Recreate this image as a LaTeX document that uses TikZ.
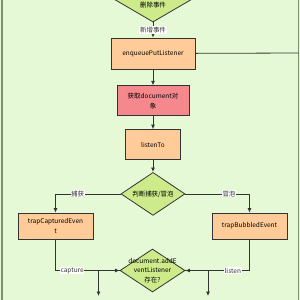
\documentclass[tikz,border=0pt]{standalone}
\usepackage{fontspec}
\setmainfont{Noto Sans CJK SC}
\usetikzlibrary{arrows.meta,positioning,shapes.geometric}
\definecolor{Lane}{HTML}{E6F9D7}
\definecolor{LaneLine}{HTML}{7F8F72}
\definecolor{Peach}{HTML}{FFCC99}
\definecolor{Rose}{HTML}{F4888D}
\definecolor{Leaf}{HTML}{CDEB8B}
\definecolor{Ink}{HTML}{333333}

\begin{document}
\begin{tikzpicture}[x=1bp,y=1bp,>={Latex[length=4.5bp,width=4bp]},
    font=\fontsize{6.5}{9.5}\selectfont]
    \tikzset{
      box/.style={draw=Ink,line width=0.8bp,fill=Peach,inner sep=1bp,
        minimum height=30bp,align=center},
      fetch/.style={box,fill=Rose},
      decision/.style={diamond,draw=Ink,line width=0.8bp,fill=Leaf,inner sep=0pt,
        aspect=1.5,minimum width=65bp,minimum height=43bp,align=center},
      flow/.style={->,draw=Ink,line width=0.8bp},
      tag/.style={fill=white,inner sep=0.6bp,text=Ink}
    }
    % swim lane
    \fill[Lane] (0,0) rectangle (300,-300);
    \useasboundingbox (0,0) rectangle (300,-300);
    \draw[LaneLine,line width=1.2bp] (2,0) -- (2,-300);
    \draw[LaneLine,line width=1.2bp] (298.5,0) -- (298.5,-300);
    \coordinate (laneR) at (298.5,-53);

    % main column
    \node[decision,minimum width=96bp,minimum height=56bp,
      label={[yshift=-11bp]center:删除事件}] (del) at (153,6) {};
    \node[box,minimum width=84bp,minimum height=31bp] (enq) at (153,-53.5) {enqueuePutListener};
    \node[fetch,minimum width=72bp,below=16bp of enq] (doc) {获取document对\\象};
    \node[box,minimum width=55bp,below=13bp of doc] (lis) {listenTo};
    \node[decision,minimum width=64bp,below=12bp of lis] (phase) {判断捕获/冒泡};
    \node[box,minimum width=75bp,minimum height=26bp] (cap) at (55.5,-226) {trapCapturedEven\\t};
    \node[box,minimum width=75bp,minimum height=26bp] (bub) at (249.5,-226) {trapBubbledEvent};
    \node[decision,label={[align=center]center:document.addE\\ventListener\\存在?}]
      (has) at (152.5,-270.5) {};
    \coordinate (capOut) at (98.5,-296);
    \coordinate (bubOut) at (208,-296);

    % connectors
    \draw[flow] (del) -- node[tag] {新增事件} (enq);
    \draw[draw=Ink,line width=0.8bp] (enq) -- (laneR);
    \foreach \a/\b in {enq/doc,doc/lis,lis/phase}
      \draw[flow] (\a) -- (\b);
    \draw[flow] (phase.west) -| node[tag,pos=0.33] {捕获} (cap.north);
    \draw[flow] (phase.east) -| node[tag,pos=0.34] {冒泡} (bub.north);
    \draw[flow] (cap.south) |- node[tag,pos=0.63] {capture} (has.west);
    \draw[flow] (bub.south) |- node[tag,pos=0.63] {listen} (has.east);
    \draw[flow] (has.west) -| (capOut);
    \draw[flow] (has.east) -| (bubOut);
\end{tikzpicture}
\end{document}
